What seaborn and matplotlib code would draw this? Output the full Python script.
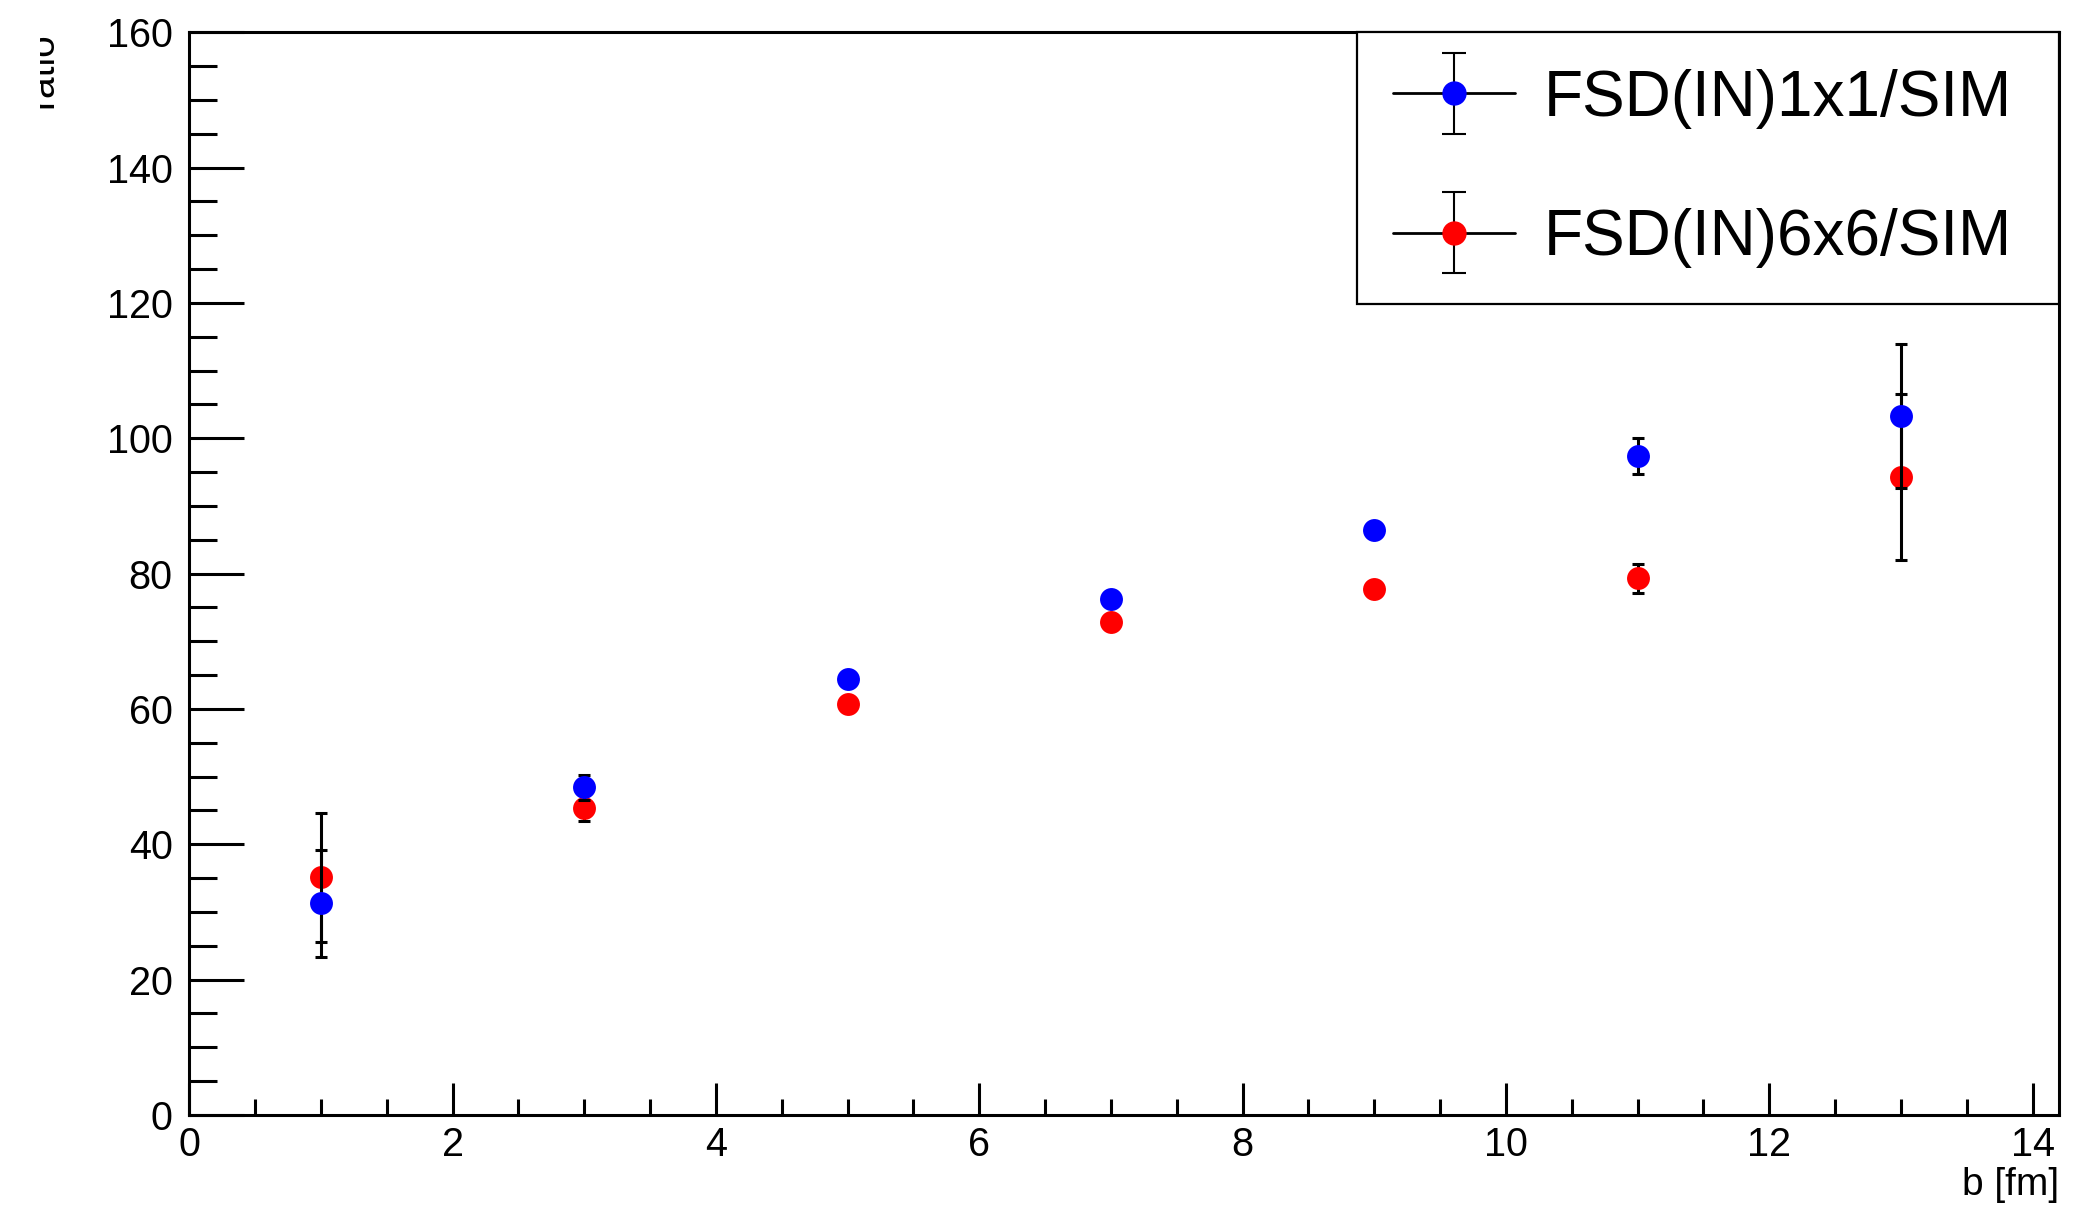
import numpy as np
import pandas as pd
import seaborn as sns
import matplotlib.pyplot as plt
from matplotlib.lines import Line2D
from matplotlib.transforms import Bbox
from matplotlib.ticker import MultipleLocator
from matplotlib.container import ErrorbarContainer
from matplotlib.legend_handler import HandlerTuple, HandlerErrorbar

# %% data
b_fm = [1, 3, 5, 7, 9, 11, 13]

ratio_1x1 = [31.3, 48.4, 64.4, 76.3, 86.4, 97.4, 103.3]
err_1x1 = [7.9, 1.9, 1.0, 1.0, 1.0, 2.7, 10.7]

ratio_6x6 = [35.1, 45.4, 60.7, 72.8, 77.7, 79.3, 94.3]
err_6x6 = [9.5, 1.9, 1.0, 1.0, 1.0, 2.1, 12.3]

labels = ['FSD(IN)1x1/SIM', 'FSD(IN)6x6/SIM']
colors = {'FSD(IN)1x1/SIM': 'blue', 'FSD(IN)6x6/SIM': 'red'}

df = pd.concat([
    pd.DataFrame({'b': b_fm, 'ratio': ratio_1x1, 'err': err_1x1, 'series': labels[0]}),
    pd.DataFrame({'b': b_fm, 'ratio': ratio_6x6, 'err': err_6x6, 'series': labels[1]}),
], ignore_index=True)

# %% style
sns.set_style('ticks')
plt.rcParams['font.family'] = ['Liberation Sans', 'DejaVu Sans']
plt.rcParams['text.color'] = 'black'
plt.rcParams['axes.labelcolor'] = 'black'
plt.rcParams['xtick.color'] = 'black'
plt.rcParams['ytick.color'] = 'black'

W, H = 2096, 1211
fig = plt.figure(figsize=(W / 100, H / 100), dpi=100)
x0, x1, y0, y1 = 189.3, 2059, 1115, 32.3
ax = fig.add_axes([x0 / W, (H - y0) / H, (x1 - x0) / W, (y0 - y1) / H])

# draw red first, blue on top
for z, lab in [(2, labels[1]), (4, labels[0])]:
    d = df[df.series == lab]
    ax.errorbar(d.b, d.ratio, yerr=d.err, fmt='none', ecolor='black',
                elinewidth=2.2, capsize=4.3, capthick=2.2, zorder=z)

sns.scatterplot(data=df[df.series == labels[1]], x='b', y='ratio', color='red',
                s=272, linewidth=0, ax=ax, zorder=3, legend=False)
sns.scatterplot(data=df[df.series == labels[0]], x='b', y='ratio', color='blue',
                s=272, linewidth=0, ax=ax, zorder=5, legend=False)

ax.set_xlim(0, 14.2)
ax.set_ylim(0, 160)
ax.xaxis.set_major_locator(MultipleLocator(2))
ax.xaxis.set_minor_locator(MultipleLocator(0.5))
ax.yaxis.set_major_locator(MultipleLocator(20))
ax.yaxis.set_minor_locator(MultipleLocator(5))

ax.tick_params(axis='both', which='both', direction='in', top=False, right=False,
               width=2.2, color='black', labelcolor='black', labelsize=28.5)
ax.tick_params(axis='y', which='major', length=39.6, pad=12)
ax.tick_params(axis='y', which='minor', length=20)
ax.tick_params(axis='x', which='major', length=23, pad=8)
ax.tick_params(axis='x', which='minor', length=11.5)
for sp in ax.spines.values():
    sp.set_linewidth(2.2)
    sp.set_color('black')

ax.set_xlabel('b [fm]', fontsize=28, loc='right', labelpad=2, color='black')
ax.set_ylabel('ratio', fontsize=28, loc='top', color='black')
ax.yaxis.set_label_coords((52 - x0) / (x1 - x0), 1.0)
ylab = ax.yaxis.label
ylab.set_va('baseline')
# the label is cut off on the left in the original
ylab.set_clip_box(Bbox.from_extents(40, 0, W, H))
ylab.set_clip_on(True)

# %% legend
handles = []
for lab in labels:
    eb = ax.errorbar([np.nan], [np.nan], yerr=[np.nan], fmt='none', ecolor='black',
                     elinewidth=1.5, capsize=8.6, capthick=1.5)
    ln = Line2D([], [], color='black', lw=2, marker='o', markersize=16.5,
                markerfacecolor=colors[lab], markeredgecolor=colors[lab])
    handles.append((eb, ln))

lx0 = (1357 - x0) / (x1 - x0)
ly0 = (y0 - 304) / (y0 - y1)
leg = ax.legend(handles, labels, loc='upper left',
                bbox_to_anchor=(lx0, ly0, 1 - lx0, 1 - ly0), mode='expand',
                borderaxespad=0, fontsize=46, handlelength=1.9, handletextpad=0.45,
                labelspacing=1.24, borderpad=0.57, fancybox=False, framealpha=1,
                edgecolor='black', labelcolor='black',
                handler_map={tuple: HandlerTuple(ndivide=1),
                             ErrorbarContainer: HandlerErrorbar(xerr_size=0.5, yerr_size=0.63)})
leg.get_frame().set_linewidth(1.6)

plt.savefig('out.png', dpi=100)
